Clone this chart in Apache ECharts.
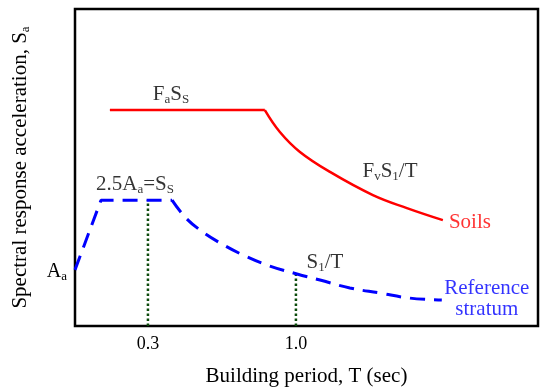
<!DOCTYPE html>
<html>
<head>
<meta charset="utf-8">
<script src="https://cdn.jsdelivr.net/npm/echarts@6/dist/echarts.min.js"></script>
<style>
  html, body { margin: 0; padding: 0; background: #fff; }
  #chart { width: 540px; height: 389px; }
</style>
</head>
<body>
<div id="chart"></div>
<script>
// schematic spectrum, x in "T" units (schematic), y in relative Sa units
var xTicks = [0.3, 1.0];
var aaLevel = [17.0];

var soilsFlat = [[0.120, 68.1], [0.853, 68.1]];
var soilsCurve = [[0.853, 68.1], [0.924, 61.2], [1.019, 54.9], [1.161, 48.6], [1.364, 41.3], [1.525, 37.2], [1.695, 33.4]];

var refRise = [[-0.045, 17.7], [0.078, 39.7], [0.414, 39.7]];
var refCurve = [[0.414, 39.7], [0.475, 34.4], [0.546, 30.3], [0.641, 26.2], [0.759, 22.1], [0.877, 18.9], [1.005, 16.4],
                [1.114, 14.5], [1.255, 12.0], [1.397, 10.4], [1.539, 8.8], [1.690, 8.2]];

var guide03 = [[0.3, 0], [0.3, 39.7]];
var guide10 = [[1.0, 0], [1.0, 16.4]];

// annotation texts and their anchor points
var noteTexts = ['F{sub|a}S{sub|S}', '2.5A{sub|a}=S{sub|S}', 'F{sub|v}S{sub|1}/T', 'Soils', 'S{sub|1}/T', 'Reference\nstratum'];
var notePos = [[0.409, 72.9], [0.2385, 44.5], [1.445, 48.6], [1.823, 32.8], [1.137, 19.9], [1.903, 8.4]];
var noteColors = ['#000', '#000', '#000', '#ff0000', '#000', '#0000ff'];

var FONT = '"Liberation Serif", "Times New Roman", serif';
var subRich = {
    sub: { fontSize: 13, fontFamily: FONT, color: '#000', verticalAlign: 'bottom', padding: [0, 0, -1, 0] }
};

var chart = echarts.init(document.getElementById('chart'));

function lineSeries(data, color, type, width) {
    return {
        type: 'line',
        data: data,
        symbol: 'none',
        silent: true,
        lineStyle: { color: color, width: width, type: type }
    };
}

var soilsSmooth = lineSeries(soilsCurve, '#ff0000', 'solid', 2.5);
soilsSmooth.smooth = 0.4;
var refSmooth = lineSeries(refCurve, '#0000ff', [15, 9], 3);
refSmooth.smooth = 0.4;

var notes = {
    type: 'scatter',
    symbolSize: 0,
    silent: true,
    z: 10,
    data: notePos.map(function (p, i) {
        return {
            value: p,
            label: {
                show: true,
                position: 'inside',
                formatter: noteTexts[i],
                color: noteColors[i],
                fontSize: 21,
                fontFamily: FONT,
                lineHeight: 21,
                align: 'center',
                rich: {
                    sub: { fontSize: 13, fontFamily: FONT, color: noteColors[i], verticalAlign: 'bottom', padding: [0, 0, -1, 0] }
                }
            }
        };
    })
};

chart.setOption({
    animation: false,
    grid: {
        left: 75, right: 2, top: 9, bottom: 63,
        outerBoundsMode: 'none',
        containLabel: false,
        show: true,
        borderColor: '#000',
        borderWidth: 2.5
    },
    xAxis: {
        type: 'value',
        min: -0.045,
        max: 2.145,
        name: 'Building period, T (sec)',
        nameLocation: 'middle',
        nameGap: 40,
        nameTextStyle: { fontSize: 21, fontFamily: FONT, color: '#000' },
        axisLine: { show: false },
        axisTick: { show: false },
        splitLine: { show: false },
        axisLabel: {
            customValues: xTicks,
            margin: 9,
            fontSize: 18,
            fontFamily: FONT,
            color: '#000',
            formatter: function (v) { return v.toFixed(1); }
        }
    },
    yAxis: {
        type: 'value',
        min: 0,
        max: 100,
        name: 'Spectral response acceleration, S{sub|a}',
        nameLocation: 'middle',
        nameGap: 44,
        nameTextStyle: { fontSize: 21, fontFamily: FONT, color: '#000', rich: subRich },
        axisLine: { show: false },
        axisTick: { show: false },
        splitLine: { show: false },
        axisLabel: {
            customValues: aaLevel,
            margin: 8,
            fontSize: 20,
            fontFamily: FONT,
            color: '#000',
            formatter: function () { return 'A{sub|a}'; },
            rich: subRich
        }
    },
    series: [
        lineSeries(guide03, '#0b4a0b', 'dotted', 2.5),
        lineSeries(guide10, '#0b4a0b', 'dotted', 2.5),
        lineSeries(soilsFlat, '#ff0000', 'solid', 2.5),
        soilsSmooth,
        lineSeries(refRise, '#0000ff', [15, 9], 3),
        refSmooth,
        notes
    ]
});
</script>
</body>
</html>
